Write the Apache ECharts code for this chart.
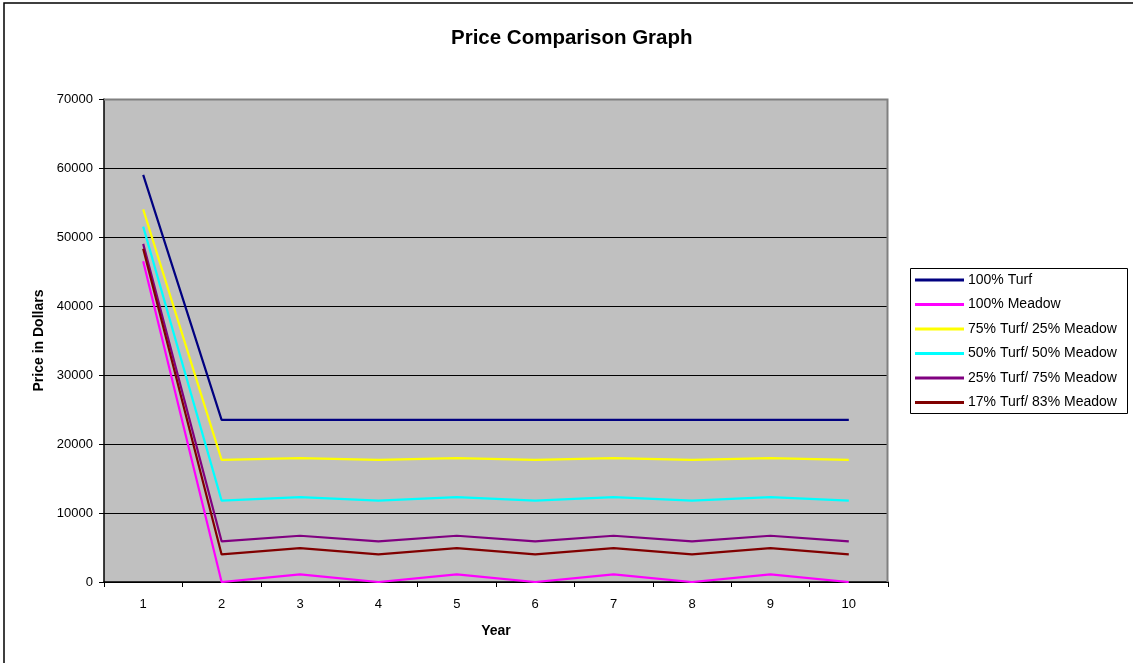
<!DOCTYPE html>
<html>
<head>
<meta charset="utf-8">
<script src="https://cdn.jsdelivr.net/npm/echarts@6/dist/echarts.min.js"></script>
<style>
html,body{margin:0;padding:0;background:#fff;}
#chart{width:1133px;height:663px;}
</style>
</head>
<body>
<div id="chart"></div>
<script>
const years = ['1','2','3','4','5','6','7','8','9','10'];
const seriesNames = ['100% Turf','100% Meadow','75% Turf/ 25% Meadow','50% Turf/ 50% Meadow','25% Turf/ 75% Meadow','17% Turf/ 83% Meadow'];
const turf100 = [59000, 23500, 23500, 23500, 23500, 23500, 23500, 23500, 23500, 23500];
const meadow100 = [46500, 0, 1100, 0, 1100, 0, 1100, 0, 1100, 0];
const turf75 = [54000, 17700, 17950, 17700, 17950, 17700, 17950, 17700, 17950, 17700];
const turf50 = [51500, 11800, 12300, 11800, 12300, 11800, 12300, 11800, 12300, 11800];
const turf25 = [49000, 5900, 6700, 5900, 6700, 5900, 6700, 5900, 6700, 5900];
const turf17 = [48300, 4000, 4900, 4000, 4900, 4000, 4900, 4000, 4900, 4000];
const yTicks = [0, 70000, 10000];

const colors = ['#000080','#FF00FF','#FFFF00','#00FFFF','#800080','#800000'];
const allData = [turf100, meadow100, turf75, turf50, turf25, turf17];
const FONT = '"Liberation Sans", Arial, sans-serif';

const chart = echarts.init(document.getElementById('chart'));
chart.setOption({
  animation: false,
  backgroundColor: '#fff',
  title: {
    text: 'Price Comparison Graph',
    left: 446, top: 23,
    textStyle: {fontFamily: FONT, fontSize: 20.5, fontWeight: 'bold', color: '#000'}
  },
  graphic: [
    {type: 'rect', shape: {x: 4, y: 3, width: 1140, height: 680}, style: {fill: 'none', stroke: '#000', lineWidth: 1.5}, silent: true},
    {type: 'rect', shape: {x: 910.5, y: 268.5, width: 217, height: 145}, style: {fill: '#fff', stroke: '#000', lineWidth: 1}, silent: true, z: 0},
    {type: 'polyline', shape: {points: [[104, 99.5], [887.5, 99.5], [887.5, 582]]}, style: {fill: 'none', stroke: '#808080', lineWidth: 2}, silent: true, z: 20}
  ],
  legend: {
    orient: 'vertical',
    left: 915, top: 272,
    itemWidth: 49, itemHeight: 3,
    itemGap: 8.5,
    icon: 'rect',
    padding: 0,
    z: 10,
    textStyle: {fontFamily: FONT, fontSize: 14, color: '#000', lineHeight: 16, padding: [0,0,0,-1]},
    data: seriesNames
  },
  grid: {
    left: 104, top: 99, width: 784, height: 483,
    show: true, backgroundColor: '#C0C0C0', borderWidth: 0
  },
  xAxis: {
    type: 'category',
    data: years,
    boundaryGap: true,
    name: 'Year', nameLocation: 'middle', nameGap: 42,
    nameTextStyle: {fontFamily: FONT, fontSize: 14, fontWeight: 'bold', color: '#000'},
    axisLine: {lineStyle: {color: '#000', width: 1.5}},
    axisTick: {show: true, length: 5, inside: false, alignWithLabel: false, lineStyle: {color: '#000'}},
    axisLabel: {fontFamily: FONT, fontSize: 13, color: '#000', margin: 16},
    splitLine: {show: false}
  },
  yAxis: {
    type: 'value',
    min: yTicks[0], max: yTicks[1], interval: yTicks[2],
    name: 'Price in Dollars', nameLocation: 'middle', nameRotate: 90, nameGap: 56,
    nameTextStyle: {fontFamily: FONT, fontSize: 14, fontWeight: 'bold', color: '#000'},
    axisLine: {show: true, lineStyle: {color: '#000', width: 1.5}},
    axisTick: {show: true, length: 5, inside: false, lineStyle: {color: '#000'}},
    axisLabel: {fontFamily: FONT, fontSize: 13, color: '#000', margin: 11, formatter: function (v) { return String(v); }},
    splitLine: {show: true, lineStyle: {color: '#000', width: 1}}
  },
  series: allData.map((d, i) => ({
    name: seriesNames[i],
    type: 'line',
    data: d,
    symbol: 'none',
    color: colors[i],
    lineStyle: {color: colors[i], width: 2.2},
    itemStyle: {color: colors[i]}
  }))
});
</script>
</body>
</html>
